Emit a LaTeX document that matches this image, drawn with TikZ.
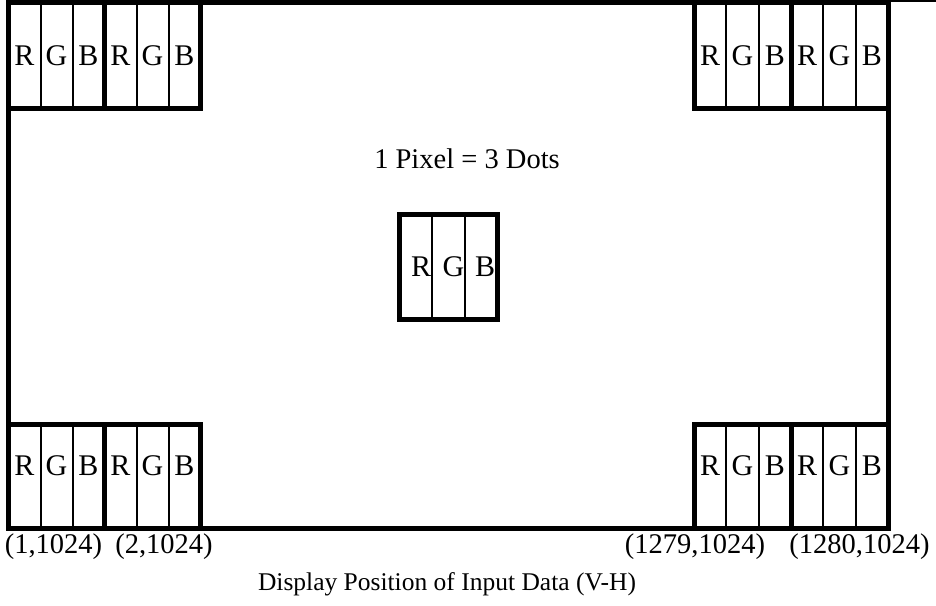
\documentclass[tikz,border=0pt]{standalone}
\usepackage{fontspec}
\setmainfont{Liberation Serif}
\usepackage{tikz}
\tikzset{frame/.style = {line width=5pt}}
\tikzset{divider/.style = {line width=2pt}}
\tikzset{dotlabel/.style = {font=\fontsize{30}{34}\selectfont, inner sep=0, anchor=base}}
\tikzset{poslabel/.style = {font=\fontsize{28.5}{34}\selectfont, inner sep=0, anchor=base}}

\begin{document}
\begin{tikzpicture}[x=1pt, y=-1pt]
      \useasboundingbox (0,0) rectangle (936,605);
      \draw [frame] (8.5,2.5) rectangle (888.5,528);
      \draw [divider] (888,1) -- (936,1);
      % corner pixels: x start / pixel width / top / bottom / text base
      \foreach \gx/\gw/\ya/\yb/\yt [count=\g] in {8.5/96/2.5/108.5/65, 694/97/2.5/108.5/65,
                                              8.5/96/424.5/528/475, 694/97/424.5/528/475} {
        \foreach \p in {0,1} {
          \draw [divider] ({\gx+\p*\gw+\gw/3},\ya) -- ({\gx+\p*\gw+\gw/3},\yb);
          \draw [divider] ({\gx+\p*\gw+2*\gw/3},\ya) -- ({\gx+\p*\gw+2*\gw/3},\yb);
          \draw [frame] ({\gx+\p*\gw},\ya) rectangle ({\gx+(\p+1)*\gw},\yb);
          \foreach \l [count=\k from 0] in {R,G,B}
            \node [dotlabel] (g\g-\p\l) at ({\gx+\p*\gw+(\k+0.5)*\gw/3},\yt) {\l};
        }
      }
      \node [poslabel] (text) at (467,168) {1 Pixel = 3 Dots};
      % one pixel
      \draw [divider] (432,214.5) -- (432,319);
      \draw [divider] (465,214.5) -- (465,319);
      \draw [frame] (399,214.5) rectangle (497.5,319);
      \node [dotlabel] (cR) at (421,276) {R};
      \node [dotlabel] (cG) at (453.5,276) {G};
      \node [dotlabel] (cB) at (485,276) {B};
      \node [poslabel] (p1) at (53.5,553) {(1,1024)};
      \node [poslabel] (p2) at (164,553) {(2,1024)};
      \node [poslabel] (p1279) at (695,553) {(1279,1024)};
      \node [poslabel] (p1280) at (859.5,553) {(1280,1024)};
      \node [poslabel, font=\fontsize{25.5}{30}\selectfont] (caption) at (447,590) {Display Position of Input Data (V-H)};
    \end{tikzpicture}
\end{document}
